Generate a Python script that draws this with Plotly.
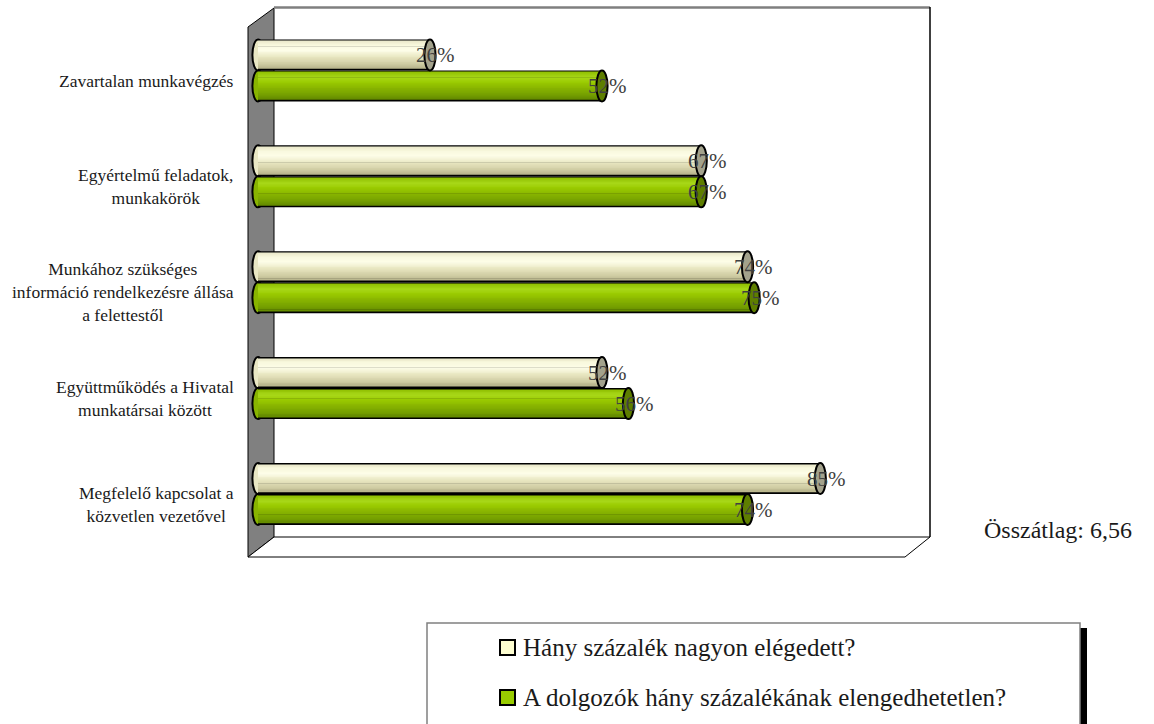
import plotly.graph_objects as go

# ---- data -------------------------------------------------------------
categories = [
    "Zavartalan munkavégzés",
    "Egyértelmű feladatok,<br>munkakörök",
    "Munkához szükséges<br>információ rendelkezésre állása<br>a felettestől",
    "Együttműködés a Hivatal<br>munkatársai között",
    "Megfelelő kapcsolat a<br>közvetlen vezetővel",
]
series_names = ["Hány százalék nagyon elégedett?",
                "A dolgozók hány százalékának elengedhetetlen?"]
very_satisfied = [26, 67, 74, 52, 85]   # %
essential = [52, 67, 75, 56, 74]        # %
overall_label = "Összátlag: 6,56"

# ---- geometry helpers (canvas pixels -> paper) ------------------------
W, H = 1154, 724
FONT = "Liberation Serif"


def pxx(p):
    return p / W


def pxy(p):
    return 1 - p / H


X0_PX, X100_PX = 258.0, 919.5          # where 0 % and 100 % fall
PLOT_L, PLOT_R = 248.0, 930.0
UNIT = (X100_PX - X0_PX) / 100.0
x_range = [(PLOT_L - X0_PX) / UNIT, (PLOT_R - X0_PX) / UNIT]

ROW_TOP, ROW_BOT = 70.5, 494.0          # centres of first / last group
ROW_H = (ROW_BOT - ROW_TOP) / (len(categories) - 1)
DOM_TOP = ROW_TOP - ROW_H / 2
DOM_BOT = ROW_BOT + ROW_H / 2
BAR_W = 31.0 / ROW_H                    # bar thickness in category units
CAP_RX = 5.6 / UNIT                     # horizontal radius of cylinder ends


def hex2rgb(h):
    h = h.lstrip("#")
    return tuple(int(h[i:i + 2], 16) for i in (0, 2, 4))


def ramp(stops, t):
    for (t0, c0), (t1, c1) in zip(stops, stops[1:]):
        if t0 <= t <= t1:
            f = (t - t0) / (t1 - t0) if t1 > t0 else 0
            a, b = hex2rgb(c0), hex2rgb(c1)
            return "rgb(%d,%d,%d)" % tuple(round(a[i] + (b[i] - a[i]) * f) for i in range(3))
    return stops[-1][1]


series = [
    dict(values=very_satisfied, offset=-BAR_W,
         stops=[(0.0, "#e9e7c8"), (0.15, "#f9f9de"), (0.35, "#fdfde8"),
                (0.6, "#e7e5bf"), (0.85, "#cfcca3"), (1.0, "#b6b38a")],
         end="#e9e7c4", cap="#a3a28c", key="#fdfdd0"),
    dict(values=essential, offset=0.0,
         stops=[(0.0, "#8fbf00"), (0.2, "#a9d81a"), (0.38, "#9acb00"),
                (0.6, "#88b400"), (0.85, "#76a000"), (1.0, "#628800")],
         end="#88b400", cap="#5e7e00", key="#99cc00"),
]

fig = go.Figure()
shapes = []
annotations = []

# back wall, side wall and floor of the 3-D frame
shapes.append(dict(type="path", xref="paper", yref="paper", layer="below",
                   path="M %f,%f L %f,%f L %f,%f L %f,%f Z" % (
                       pxx(248), pxy(27), pxx(274), pxy(8),
                       pxx(274), pxy(537), pxx(248), pxy(557)),
                   fillcolor="#808080", line=dict(color="black", width=1)))
shapes.append(dict(type="path", xref="paper", yref="paper", layer="below",
                   path="M %f,%f L %f,%f L %f,%f L %f,%f Z" % (
                       pxx(248), pxy(557), pxx(274), pxy(537),
                       pxx(930), pxy(537), pxx(905), pxy(557)),
                   fillcolor="white", line=dict(color="black", width=1)))
shapes.append(dict(type="line", xref="paper", yref="paper", layer="below",
                   x0=pxx(274), x1=pxx(930), y0=pxy(7.5), y1=pxy(7.5),
                   line=dict(color="#7f7f7f", width=2.5)))
shapes.append(dict(type="line", xref="paper", yref="paper", layer="below",
                   x0=pxx(930), x1=pxx(930), y0=pxy(7), y1=pxy(537),
                   line=dict(color="black", width=1.5)))

N_STRIPS = 16
INSET = 2.0 / ROW_H
for s in series:
    # dark body gives the outline along top and bottom
    fig.add_bar(y=categories, x=s["values"], base=0, orientation="h",
                offset=s["offset"], width=BAR_W, marker_color="black",
                marker_line_width=0, showlegend=False, hoverinfo="skip")
    inner = BAR_W - 2 * INSET
    sw = inner / N_STRIPS
    for k in range(N_STRIPS):
        fig.add_bar(y=categories, x=s["values"], base=0, orientation="h",
                    offset=s["offset"] + INSET + k * sw, width=sw * 1.15,
                    marker_color=ramp(s["stops"], (k + 0.5) / N_STRIPS),
                    marker_line_width=0, showlegend=False, hoverinfo="skip")
    for i, v in enumerate(s["values"]):
        y0 = i + s["offset"]
        y1 = y0 + BAR_W
        # rounded left end
        shapes.append(dict(type="circle", xref="x", yref="y", layer="below",
                           x0=-CAP_RX, x1=CAP_RX, y0=y0, y1=y1,
                           fillcolor=s["end"], line=dict(color="black", width=2)))
        # visible right end of the cylinder
        shapes.append(dict(type="circle", xref="x", yref="y", layer="above",
                           x0=v - CAP_RX, x1=v + CAP_RX, y0=y0, y1=y1,
                           fillcolor=s["cap"], line=dict(color="black", width=2)))
        annotations.append(dict(x=v, y=(y0 + y1) / 2, xref="x", yref="y",
                                text="%d%%" % v, showarrow=False, xshift=6,
                                xanchor="center", yanchor="middle",
                                font=dict(family=FONT, size=21, color="#404040")))

# category labels, centred blocks right-aligned against the wall
for i, c in enumerate(categories):
    annotations.append(dict(x=pxx(236), xref="paper", y=i, yref="y", yshift=-10,
                            text=c, showarrow=False, xanchor="right",
                            yanchor="middle", align="center",
                            font=dict(family=FONT, size=17.5, color="#1a1a1a")))

annotations.append(dict(x=pxx(982), y=pxy(530), xref="paper", yref="paper",
                        text=overall_label, showarrow=False, xanchor="left",
                        yanchor="middle",
                        font=dict(family=FONT, size=24, color="#1a1a1a")))

# legend box with shadow
shapes.append(dict(type="rect", xref="paper", yref="paper", layer="above",
                   x0=pxx(1080), x1=pxx(1087), y0=pxy(628), y1=pxy(740),
                   fillcolor="black", line=dict(width=0)))
shapes.append(dict(type="rect", xref="paper", yref="paper", layer="above",
                   x0=pxx(427), x1=pxx(1080), y0=pxy(623), y1=pxy(740),
                   fillcolor="white", line=dict(color="#808080", width=1.5)))
for j, (name, s) in enumerate(zip(series_names, series)):
    cy = 647.5 + j * 50
    shapes.append(dict(type="rect", xref="paper", yref="paper", layer="above",
                       x0=pxx(500), x1=pxx(515), y0=pxy(cy - 7.5), y1=pxy(cy + 7.5),
                       fillcolor=s["key"], line=dict(color="black", width=2)))
    annotations.append(dict(x=pxx(521), y=pxy(cy), xref="paper", yref="paper",
                            text=name, showarrow=False, xanchor="left",
                            yanchor="middle",
                            font=dict(family=FONT, size=25, color="#1a1a1a")))

fig.update_layout(
    width=W, height=H, autosize=False,
    margin=dict(l=0, r=0, t=0, b=0, pad=0),
    paper_bgcolor="white", plot_bgcolor="rgba(0,0,0,0)",
    barmode="overlay", showlegend=False,
    xaxis=dict(domain=[pxx(PLOT_L), pxx(PLOT_R)], range=x_range,
               showgrid=False, zeroline=False, showticklabels=False,
               ticks="", fixedrange=True),
    yaxis=dict(domain=[pxy(DOM_BOT), pxy(DOM_TOP)], type="category",
               categoryorder="array", categoryarray=categories,
               range=[len(categories) - 0.5, -0.5],
               showgrid=False, zeroline=False, showticklabels=False,
               ticks="", fixedrange=True),
    shapes=shapes, annotations=annotations,
)

fig.write_html("out.html")
